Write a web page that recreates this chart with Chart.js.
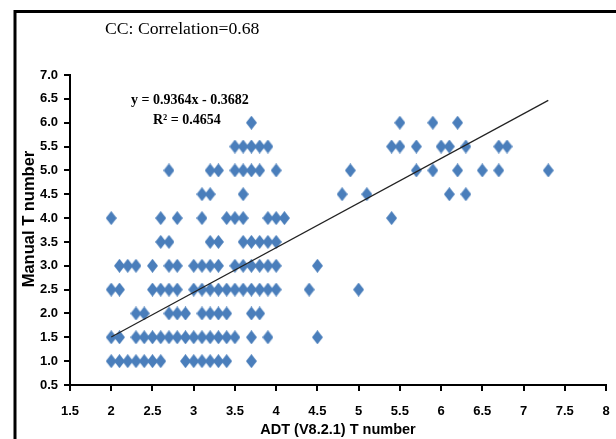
<!DOCTYPE html>
<html>
<head>
<meta charset="utf-8">
<script src="https://cdn.jsdelivr.net/npm/chart.js@4.4.1/dist/chart.umd.min.js"></script>
<style>
  body { margin: 0; background: #fff; }
</style>
</head>
<body>
<canvas id="scatter" width="616" height="439"></canvas>
<script>
// ADT (V8.2.1) T number readings, one list for each manual T number
const adtAt1_0 = [2.0, 2.1, 2.2, 2.3, 2.4, 2.5, 2.6, 2.9, 3.0, 3.1, 3.2, 3.3, 3.4, 3.7];
const adtAt1_5 = [2.0, 2.1, 2.3, 2.4, 2.5, 2.6, 2.7, 2.8, 2.9, 3.0, 3.1, 3.2, 3.3, 3.4, 3.5, 3.7, 3.9, 4.5];
const adtAt2_0 = [2.3, 2.4, 2.7, 2.8, 2.9, 3.1, 3.2, 3.3, 3.4, 3.7, 3.8];
const adtAt2_5 = [2.0, 2.1, 2.5, 2.6, 2.7, 2.8, 3.0, 3.1, 3.2, 3.3, 3.4, 3.5, 3.6, 3.7, 3.8, 3.9, 4.0, 4.4, 5.0];
const adtAt3_0 = [2.1, 2.2, 2.3, 2.5, 2.7, 2.8, 3.0, 3.1, 3.2, 3.3, 3.5, 3.6, 3.7, 3.8, 3.9, 4.0, 4.5];
const adtAt3_5 = [2.6, 2.7, 3.2, 3.3, 3.6, 3.7, 3.8, 3.9, 4.0];
const adtAt4_0 = [2.0, 2.6, 2.8, 3.1, 3.4, 3.5, 3.6, 3.9, 4.0, 4.1, 5.4];
const adtAt4_5 = [3.1, 3.2, 3.6, 4.8, 5.1, 6.1, 6.3];
const adtAt5_0 = [2.7, 3.2, 3.3, 3.5, 3.6, 3.7, 3.8, 4.0, 4.9, 5.7, 5.9, 6.2, 6.5, 6.7, 7.3];
const adtAt5_5 = [3.5, 3.6, 3.7, 3.8, 3.9, 5.4, 5.5, 5.7, 6.0, 6.1, 6.3, 6.7, 6.8];
const adtAt6_0 = [3.7, 5.5, 5.9, 6.2];

const manualValues = [1.0, 1.5, 2.0, 2.5, 3.0, 3.5, 4.0, 4.5, 5.0, 5.5, 6.0];
const adtRows = [adtAt1_0, adtAt1_5, adtAt2_0, adtAt2_5, adtAt3_0, adtAt3_5, adtAt4_0, adtAt4_5, adtAt5_0, adtAt5_5, adtAt6_0];

// Excel linear trendline as printed on the chart
const slope = 0.9364;
const intercept = -0.3682;
const trendFrom = 2.0;
const trendTo = 7.3;

const xMin = 1.5, xMax = 8, yMin = 0.5, yMax = 7;

// build points
const points = [];
adtRows.forEach((row, i) => {
    row.forEach(x => points.push({ x: x, y: manualValues[i] }));
});
const trendPoints = [trendFrom, trendTo].map(x => ({ x: x, y: slope * x + intercept }));

// tall blue diamond marker like Excel's
const marker = document.createElement('canvas');
marker.width = 11;
marker.height = 14;
const mctx = marker.getContext('2d');
mctx.fillStyle = '#4a7ebb';
mctx.beginPath();
mctx.moveTo(5.5, 0);
mctx.lineTo(11, 7);
mctx.lineTo(5.5, 14);
mctx.lineTo(0, 7);
mctx.closePath();
mctx.fill();

const sans = "'Liberation Sans', Arial, sans-serif";
const serif = "'Liberation Serif', 'Times New Roman', serif";
const axisFont = { family: sans, size: 13, weight: 'bold' };

// outer frame, y title and the text notes
const notes = {
    id: 'notes',
    afterDraw(chart) {
        const ctx = chart.ctx;
        ctx.save();
        ctx.strokeStyle = '#000';
        ctx.lineWidth = 3;
        ctx.beginPath();
        ctx.moveTo(15, 439);
        ctx.lineTo(15, 11.5);
        ctx.lineTo(616, 11.5);
        ctx.stroke();

        ctx.fillStyle = '#000';
        ctx.textBaseline = 'middle';
        ctx.textAlign = 'left';
        ctx.font = '17.7px ' + serif;
        ctx.fillText('CC: Correlation=0.68', 105, 29);
        ctx.font = 'bold 14px ' + serif;
        ctx.fillText('y = 0.9364x - 0.3682', 131, 100);
        ctx.fillText('R² = 0.4654', 153, 120);

        ctx.translate(29, 219);
        ctx.rotate(-Math.PI / 2);
        ctx.textAlign = 'center';
        ctx.font = 'bold 16.5px ' + sans;
        ctx.fillText('Manual T number', 0, 0);
        ctx.restore();
    }
};

new Chart(document.getElementById('scatter'), {
    type: 'scatter',
    data: {
        datasets: [{
            type: 'line',
            data: trendPoints,
            borderColor: '#222',
            borderWidth: 1.2,
            pointRadius: 0,
            fill: false
        }, {
            data: points,
            pointStyle: marker,
            pointRadius: 6,
            backgroundColor: '#4a7ebb',
            borderWidth: 0
        }]
    },
    options: {
        responsive: false,
        animation: false,
        events: [],
        layout: { padding: { left: 20, right: 10, top: 75, bottom: 0 } },
        plugins: { legend: { display: false }, tooltip: { enabled: false } },
        scales: {
            x: {
                type: 'linear',
                min: xMin,
                max: xMax,
                afterFit: scale => {
                    scale.height = 54;
                    // keep the label gap from eating into the plot width
                    scale.paddingLeft = 4;
                    scale.paddingRight = 4;
                },
                ticks: {
                    stepSize: 0.5,
                    autoSkip: false,
                    maxRotation: 0,
                    padding: 13,
                    color: '#000',
                    font: axisFont,
                    callback: v => String(Math.round(v * 10) / 10)
                },
                grid: { drawOnChartArea: false, color: '#000', lineWidth: 2, tickLength: 6 },
                border: { color: '#000', width: 2 },
                title: {
                    display: true,
                    text: 'ADT (V8.2.1) T number',
                    color: '#000',
                    padding: { top: 0, bottom: 0 },
                    font: { family: sans, size: 14.5, weight: 'bold' }
                }
            },
            y: {
                type: 'linear',
                min: yMin,
                max: yMax,
                afterFit: scale => { scale.width = 50; },
                ticks: {
                    stepSize: 0.5,
                    autoSkip: false,
                    padding: 6,
                    color: '#000',
                    font: axisFont,
                    callback: v => v.toFixed(1)
                },
                grid: { drawOnChartArea: false, color: '#000', lineWidth: 2, tickLength: 6 },
                border: { color: '#000', width: 2 },
                title: { display: false }
            }
        }
    },
    plugins: [notes]
});
</script>
</body>
</html>
